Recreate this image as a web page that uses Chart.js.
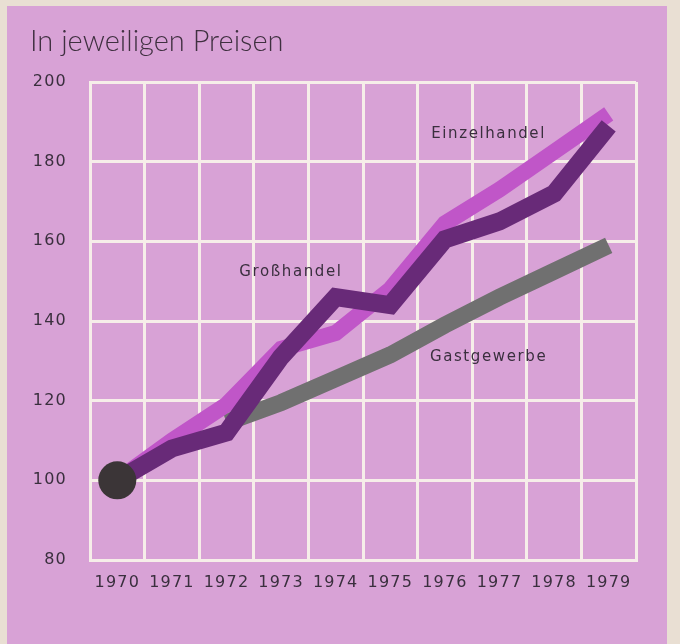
<!DOCTYPE html>
<html>
<head>
<meta charset="utf-8">
<script src="https://cdn.jsdelivr.net/npm/chart.js@4.4.1/dist/chart.umd.min.js"></script>
<style>
  html, body { margin: 0; padding: 0; background: #e9dfd3; }
  #wrap { position: relative; width: 680px; height: 644px; }
  canvas { display: block; }
</style>
</head>
<body>
<div id="wrap"><canvas id="chart" width="680" height="644"></canvas></div>
<script>
const years = ["1970", "1971", "1972", "1973", "1974", "1975", "1976", "1977", "1978", "1979"];
const einzelhandel = [100, 110, 119, 133, 137, 148, 164.5, 173, 182.5, 192];
const grosshandel = [100, 108, 112, 131, 146, 144, 160.5, 165, 172, 189];
const gastgewerbe = [null, null, 114.5, 119.5, 125.5, 131.5, 139, 146, 152.5, 159];
const startpunkt = [100, null, null, null, null, null, null, null, null, null];
const yTicks = [80, 100, 120, 140, 160, 180, 200];

const colors = {
  pink: "#d8a2d6",
  grid: "#f6eee9",
  text: "#3a2f3e",
  einzel: "#c056c8",
  gross: "#682a78",
  gast: "#707070",
  dot: "#3b3537",
};

// series labels, placed by category index and value
const seriesLabels = [
  { text: "Einzelhandel", at: 6.8, value: 186.9 },
  { text: "Großhandel", at: 3.18, value: 152.3 },
  { text: "Gastgewerbe", at: 6.8, value: 131 },
];

const decor = {
  id: "decor",
  beforeDraw(chart) {
    const ctx = chart.ctx;
    ctx.save();
    ctx.fillStyle = colors.pink;
    ctx.fillRect(7, 6, 660, 638);
    ctx.restore();
    ctx.letterSpacing = "1.2px";
  },
  afterDraw(chart) {
    const ctx = chart.ctx;
    const x = chart.scales.x;
    const y = chart.scales.y;
    ctx.save();
    ctx.fillStyle = colors.text;
    ctx.textAlign = "center";
    ctx.textBaseline = "middle";
    ctx.font = "15px 'DejaVu Sans', sans-serif";
    ctx.letterSpacing = "1.6px";
    seriesLabels.forEach((l) => {
      const step = x.getPixelForValue(1) - x.getPixelForValue(0);
      const px = x.getPixelForValue(Math.floor(l.at)) + (l.at % 1) * step;
      ctx.fillText(l.text, px, y.getPixelForValue(l.value));
    });
    ctx.letterSpacing = "0px";
    ctx.textAlign = "left";
    ctx.textBaseline = "alphabetic";
    ctx.fillStyle = "#3f3040";
    ctx.font = "300 29px Lato, sans-serif";
    ctx.fillText("In jeweiligen Preisen", 30, 51);
    ctx.restore();
  },
};

new Chart(document.getElementById("chart"), {
  type: "line",
  data: {
    labels: years,
    datasets: [
      {
        label: "Start",
        data: startpunkt,
        showLine: false,
        pointRadius: 19,
        pointBackgroundColor: colors.dot,
        pointBorderWidth: 0,
      },
      {
        label: "Großhandel",
        data: grosshandel,
        borderColor: colors.gross,
        borderWidth: 18,
        pointRadius: 0,
        borderJoinStyle: "miter",
        borderCapStyle: "butt",
      },
      {
        label: "Einzelhandel",
        data: einzelhandel,
        borderColor: colors.einzel,
        borderWidth: 16,
        pointRadius: 0,
        borderJoinStyle: "miter",
        borderCapStyle: "butt",
      },
      {
        label: "Gastgewerbe",
        data: gastgewerbe,
        borderColor: colors.gast,
        borderWidth: 17,
        pointRadius: 0,
        borderJoinStyle: "miter",
        borderCapStyle: "butt",
      },
    ],
  },
  options: {
    responsive: false,
    animation: false,
    events: [],
    layout: { padding: { top: 82, left: 0, right: 44, bottom: 44 } },
    plugins: {
      legend: { display: false },
      tooltip: { enabled: false },
    },
    scales: {
      x: {
        offset: true,
        grid: { offset: true, color: colors.grid, lineWidth: 3, drawTicks: false },
        border: { color: colors.grid, width: 3 },
        ticks: {
          color: colors.text,
          padding: 13,
          maxRotation: 0,
          font: { family: "'DejaVu Sans', sans-serif", size: 16 },
        },
        afterFit(scale) { scale.height = 40; },
      },
      y: {
        min: 80,
        max: 200,
        afterBuildTicks(scale) { scale.ticks = yTicks.map((v) => ({ value: v })); },
        grid: { color: colors.grid, lineWidth: 3, drawTicks: false },
        border: { color: colors.grid, width: 3 },
        ticks: {
          color: colors.text,
          padding: 23,
          font: { family: "'DejaVu Sans', sans-serif", size: 16 },
        },
        afterFit(scale) { scale.width = 90; },
      },
    },
  },
  plugins: [decor],
});
</script>
</body>
</html>
